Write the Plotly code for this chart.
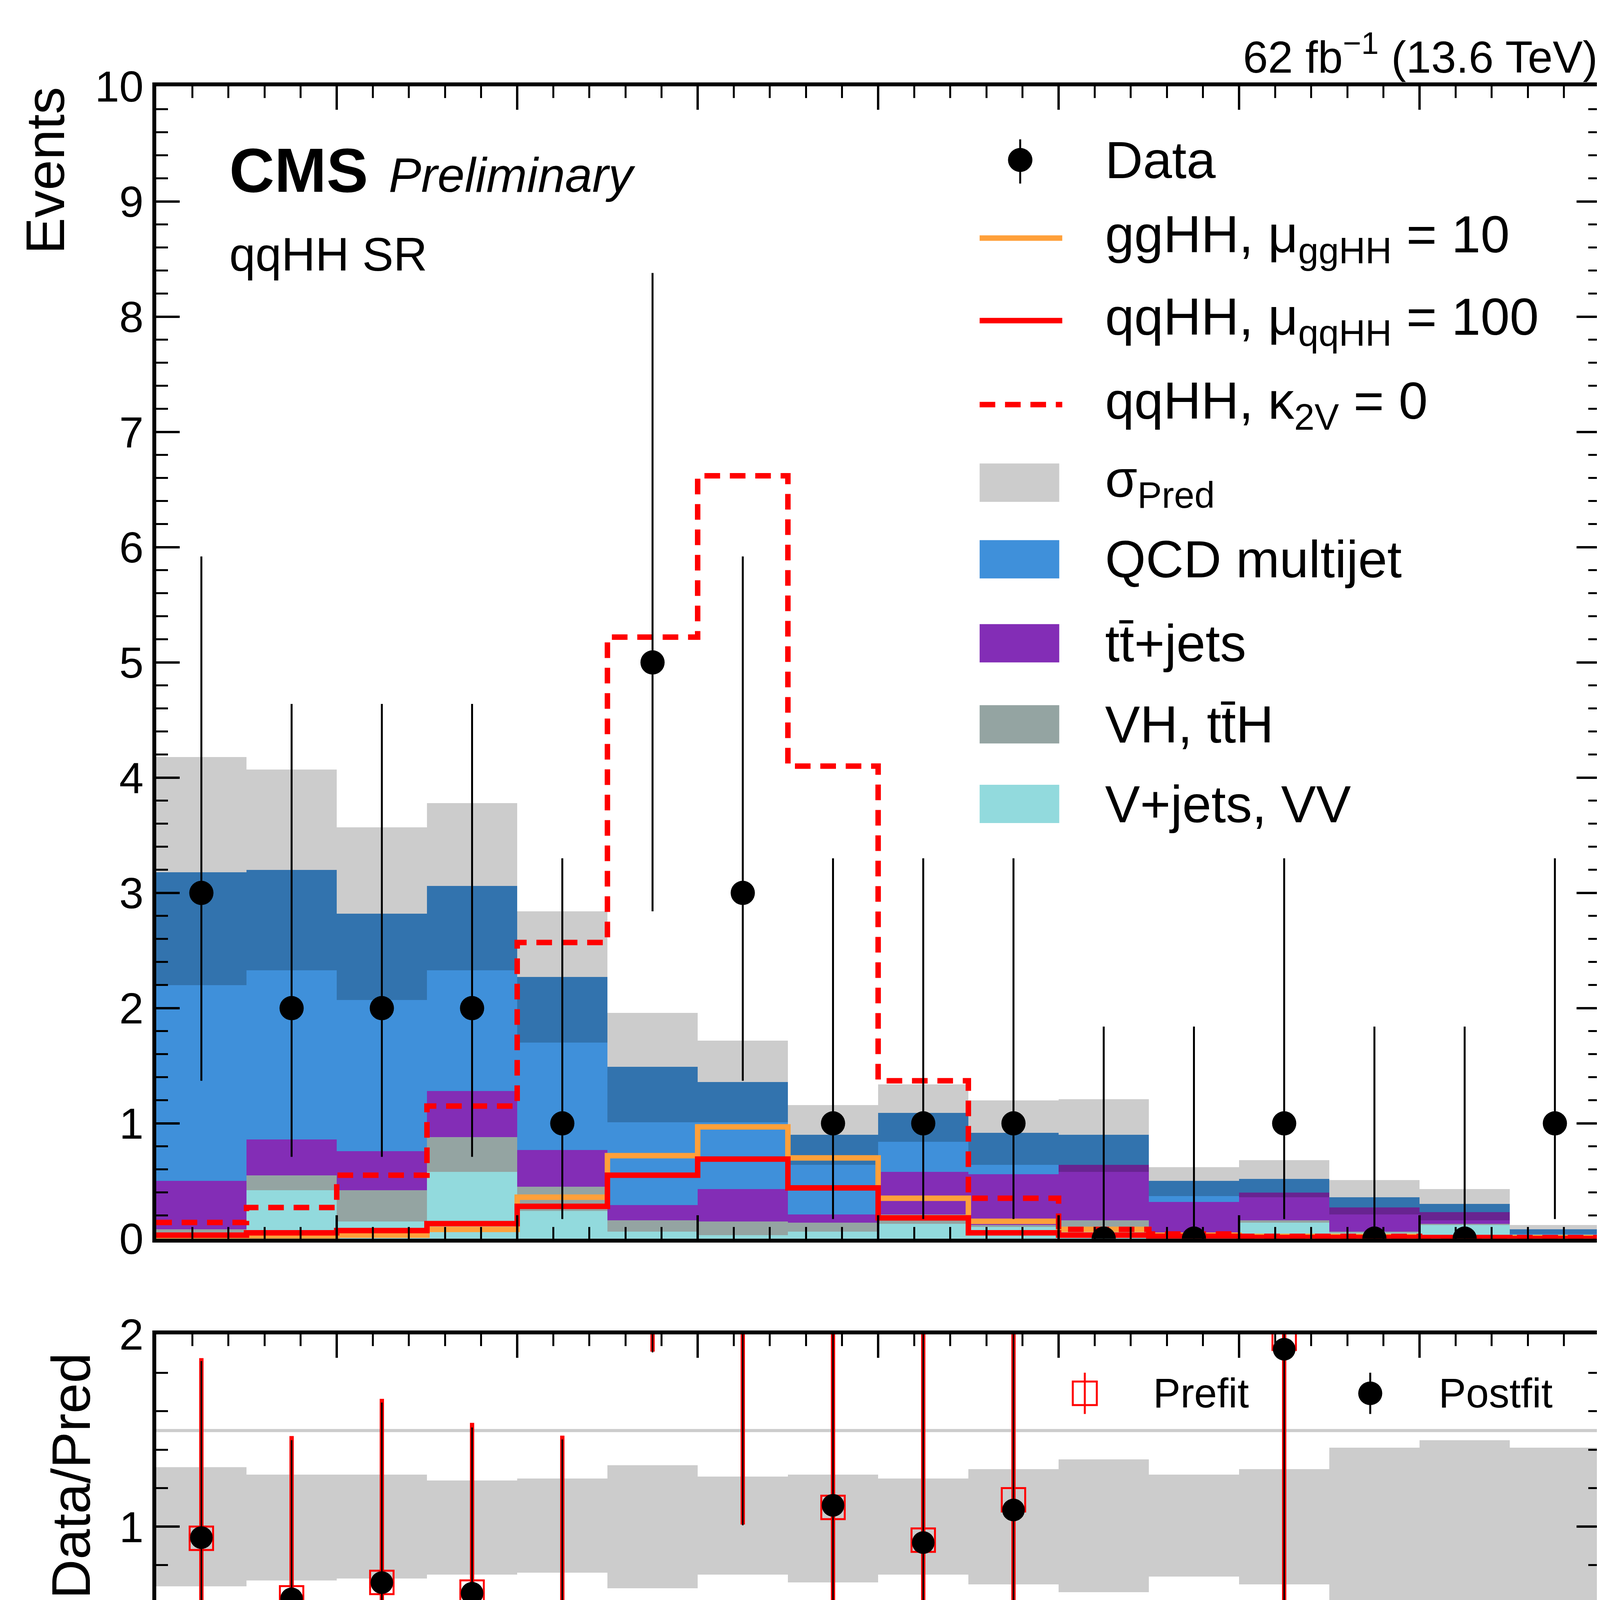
import numpy as np
import plotly.graph_objects as go

edges = list(range(60, 230, 10))
centers = [e + 5 for e in edges[:-1]]

# cumulative stack levels
vjets_top = [0.03, 0.42, 0.15, 0.58, 0.24, 0.06, 0.03, 0.06, 0.13, 0.10, 0.10, 0.02, 0.14, 0.05, 0.12, 0.01]
vh_top    = [0.08, 0.55, 0.42, 0.88, 0.45, 0.16, 0.15, 0.14, 0.21, 0.12, 0.16, 0.04, 0.16, 0.06, 0.13, 0.01]
tt_top    = [0.50, 0.86, 0.76, 1.28, 0.77, 0.29, 0.43, 0.21, 0.58, 0.56, 0.64, 0.32, 0.40, 0.27, 0.23, 0.02]
qcd_top   = [3.18, 3.20, 2.82, 3.06, 2.27, 1.49, 1.36, 0.90, 1.09, 0.92, 0.90, 0.50, 0.52, 0.36, 0.30, 0.08]
band_lo   = [2.20, 2.33, 2.07, 2.33, 1.70, 1.01, 1.01, 0.64, 0.84, 0.64, 0.58, 0.37, 0.36, 0.21, 0.16, 0.04]
band_hi   = [4.18, 4.07, 3.57, 3.78, 2.84, 1.96, 1.72, 1.16, 1.34, 1.20, 1.21, 0.62, 0.68, 0.51, 0.43, 0.12]

gghh  = [0.02, 0.02, 0.03, 0.08, 0.36, 0.72, 0.97, 0.70, 0.35, 0.15, 0.08, 0.03, 0.02, 0.02, 0.01, 0.01]
qqhh  = [0.03, 0.05, 0.07, 0.13, 0.28, 0.55, 0.69, 0.44, 0.18, 0.05, 0.03, 0.02, 0.01, 0.01, 0.01, 0.00]
k2v0  = [0.14, 0.27, 0.55, 1.15, 2.57, 5.22, 6.62, 4.10, 1.37, 0.35, 0.08, 0.04, 0.02, 0.02, 0.01, 0.01]

data    = [3, 2, 2, 2, 1, 5, 3, 1, 1, 1, 0, 0, 1, 0, 0, 1]
data_lo = [1.37, 0.71, 0.71, 0.71, 0.17, 2.84, 1.37, 0.17, 0.17, 0.17, 0, 0, 0.17, 0, 0, 0.17]
data_hi = [5.92, 4.64, 4.64, 4.64, 3.30, 8.38, 5.92, 3.30, 3.30, 3.30, 1.84, 1.84, 3.30, 1.84, 1.84, 3.30]

ratio_band_lo = [0.69, 0.72, 0.73, 0.75, 0.76, 0.68, 0.75, 0.71, 0.75, 0.70, 0.66, 0.74, 0.70, 0.58, 0.56, 0.60]
ratio_band_hi = [1.31, 1.27, 1.27, 1.24, 1.25, 1.32, 1.26, 1.27, 1.25, 1.30, 1.35, 1.27, 1.30, 1.41, 1.45, 1.41]
prefit_ratio  = [0.94, 0.63, 0.71, 0.66, 0.44, 3.36, 2.21, 1.10, 0.93, 1.14, 0.0, 0.0, 1.98, 0.0, 0.0, 12.5]

pull = [-0.10, -0.87, -0.58, -0.75, -1.27, 1.58, 0.95, 0.08, -0.05, 0.07, -0.90, -0.50, 0.48, -0.35, -0.30, 0.92]

FONT = "Liberation Sans"
W, H = 4200, 6040
S = 3.867 * W / 4223
ML, MR = round(102 * S), round(W - 1063 * S)
fig = go.Figure()

def bars(base, top, color, xa="x", ya="y"):
    b = np.array(base, float); t = np.array(top, float)
    fig.add_trace(go.Bar(x=centers, y=t - b, base=b, width=10, marker=dict(color=color, line_width=0),
                         xaxis=xa, yaxis=ya, showlegend=False, hoverinfo="skip"))

zero = [0] * 16
bars(zero, vjets_top, "#92dadd")
bars(vjets_top, vh_top, "#94a4a2")
bars(vh_top, tt_top, "#832db6")
bars(tt_top, qcd_top, "#3f90da")
bars(band_lo, band_hi, "rgba(0,0,0,0.2)")

def step(vals, color, dash="solid", xa="x", ya="y"):
    fig.add_trace(go.Scatter(x=edges, y=list(vals) + [vals[-1]], mode="lines", line_shape="hv",
                             line=dict(color=color, width=14, dash=dash), xaxis=xa, yaxis=ya,
                             showlegend=False, hoverinfo="skip"))

step(gghh, "#ffa03a")
step(qqhh, "#ff0000")
step(k2v0, "#ff0000", dash="40px,25px")

d = np.array(data, float)
fig.add_trace(go.Scatter(x=centers, y=d, mode="markers", marker=dict(color="black", size=62),
                         error_y=dict(type="data", symmetric=False, array=np.array(data_hi) - d,
                                      arrayminus=d - np.array(data_lo), color="black", thickness=5, width=0),
                         showlegend=False, hoverinfo="skip"))

# ratio panel
bars(ratio_band_lo, ratio_band_hi, "#cccccc", "x2", "y2")
pred = np.array(qcd_top)
r = d / pred
rlo = np.array(data_lo) / pred
rhi = np.array(data_hi) / pred
mask = d > 0
fig.add_trace(go.Scatter(x=np.array(centers)[mask], y=np.array(prefit_ratio)[mask], mode="markers",
                         marker=dict(symbol="square-open", color="red", size=60, line=dict(width=5)),
                         error_y=dict(type="data", symmetric=False, array=(rhi - r)[mask] * 1.02,
                                      arrayminus=(r - rlo)[mask], color="red", thickness=11, width=0),
                         xaxis="x2", yaxis="y2", showlegend=False, hoverinfo="skip"))
fig.add_trace(go.Scatter(x=np.array(centers)[~mask], y=np.array(prefit_ratio)[~mask], mode="markers",
                         marker=dict(symbol="square-open", color="red", size=60, line=dict(width=5)),
                         xaxis="x2", yaxis="y2", showlegend=False, hoverinfo="skip"))
fig.add_trace(go.Scatter(x=centers, y=r, mode="markers", marker=dict(color="black", size=58),
                         error_y=dict(type="data", symmetric=False, array=np.where(mask, rhi - r, 0),
                                      arrayminus=np.where(mask, r - rlo, 0), color="black", thickness=4, width=0),
                         xaxis="x2", yaxis="y2", showlegend=False, hoverinfo="skip"))

# pull panel
bars(zero, pull, "#cccccc", "x3", "y3")

shapes = []
for yv in (0.5, 1.5):
    shapes.append(dict(type="line", xref="x2", yref="y2", x0=60, x1=220, y0=yv, y1=yv,
                       line=dict(color="#cccccc", width=8), layer="below"))
for yv in (-1, 1):
    shapes.append(dict(type="line", xref="x3", yref="y3", x0=60, x1=220, y0=yv, y1=yv,
                       line=dict(color="#cccccc", width=8), layer="below"))

def px(x): return (x * S - ML) / (W - ML - MR)
def py(y): return 1 - y / 1568

ann = []
def text(x, y, s, size, xanchor="left", yanchor="middle", angle=0, **kw):
    ann.append(dict(x=px(x), y=py(y), xref="paper", yref="paper", text=s, showarrow=False,
                    xanchor=xanchor, yanchor=yanchor, textangle=angle,
                    font=dict(family=FONT, size=size, color="black"), **kw))

# legend
leg_y = [90, 143, 199, 256, 309, 361, 418, 473, 527]
labels = ["Data", "ggHH, μ<sub>ggHH</sub> = 10", "qqHH, μ<sub>qqHH</sub> = 100", "qqHH, κ<sub>2V</sub> = 0",
          "σ<sub>Pred</sub>", "QCD multijet", "tt̄+jets", "VH, tt̄H", "V+jets, VV"]
for yy, lab in zip(leg_y, labels):
    text(733, yy, lab, 134)
shapes.append(dict(type="line", xref="paper", yref="paper", x0=px(677), x1=px(677), y0=py(76), y1=py(106),
                   line=dict(color="black", width=5)))
shapes.append(dict(type="circle", xref="paper", yref="paper", x0=px(669), x1=px(685), y0=py(82), y1=py(98),
                   fillcolor="black", line=dict(color="black", width=1)))
shapes.append(dict(type="line", xref="paper", yref="paper", x0=px(650), x1=px(705), y0=py(143), y1=py(143),
                   line=dict(color="#ffa03a", width=14)))
shapes.append(dict(type="line", xref="paper", yref="paper", x0=px(650), x1=px(705), y0=py(199), y1=py(199),
                   line=dict(color="#ff0000", width=14)))
shapes.append(dict(type="line", xref="paper", yref="paper", x0=px(650), x1=px(705), y0=py(256), y1=py(256),
                   line=dict(color="#ff0000", width=14, dash="40px,25px")))
for yy, col in zip(leg_y[4:], ["#cccccc", "#3f90da", "#832db6", "#94a4a2", "#92dadd"]):
    shapes.append(dict(type="rect", xref="paper", yref="paper", x0=px(650), x1=px(703), y0=py(yy + 13),
                       y1=py(yy - 13), fillcolor=col, line_width=0))

# ratio legend
text(765, 927, "Prefit", 105)
text(955, 927, "Postfit", 105)
shapes.append(dict(type="rect", xref="paper", yref="paper", x0=px(712), x1=px(728), y0=py(935), y1=py(919),
                   line=dict(color="red", width=5)))
shapes.append(dict(type="line", xref="paper", yref="paper", x0=px(720), x1=px(720), y0=py(941), y1=py(913),
                   line=dict(color="red", width=5)))
shapes.append(dict(type="circle", xref="paper", yref="paper", x0=px(902), x1=px(918), y0=py(935), y1=py(919),
                   fillcolor="black", line_width=0))
shapes.append(dict(type="line", xref="paper", yref="paper", x0=px(910), x1=px(910), y0=py(941), y1=py(913),
                   line=dict(color="black", width=5)))

text(150, 97, "<b>CMS</b>", 160)
text(256, 100, "<i>Preliminary</i>", 125)
text(150, 154, "qqHH SR", 120)
text(1062, 18, "62 fb<sup>−1</sup> (13.6 TeV)", 115, xanchor="right")
text(28, 40, "Events", 140, xanchor="center", yanchor="top", angle=-90)
text(45, 983, "Data/Pred", 140, xanchor="center", angle=-90)
text(30, 1296, "<u>Data − Pred</u><br>σ<sub>Data</sub>", 110, xanchor="center", angle=-90)
text(1060, 1543, "m<sub>reg</sub>(H<sub>2</sub>) (GeV)", 140, xanchor="right")

def dom(a, b): return [1 - b / 1568, 1 - a / 1568]

ax_common = dict(showline=True, linecolor="black", linewidth=10, mirror="allticks", ticks="inside",
                 ticklen=60, tickwidth=6, tickcolor="black", showgrid=False, zeroline=False,
                 tickfont=dict(family=FONT, size=112, color="black"),
                 minor=dict(ticks="inside", ticklen=30, tickwidth=5, tickcolor="black"))
xcommon = dict(ax_common, range=[60, 220], dtick=20, tick0=60, minor=dict(ax_common["minor"], dtick=4))

fig.update_layout(
    width=W, height=H, paper_bgcolor="white", plot_bgcolor="white", barmode="overlay", bargap=0,
    margin=dict(l=ML, r=MR, t=0, b=0), shapes=shapes, annotations=ann,
    xaxis=dict(xcommon, domain=[0, 1], anchor="y", showticklabels=False),
    yaxis=dict(ax_common, domain=dom(40, 822), range=[0, 10], dtick=1, anchor="x",
               minor=dict(ax_common["minor"], dtick=0.2)),
    xaxis2=dict(xcommon, domain=[0, 1], anchor="y2", matches="x", showticklabels=False),
    yaxis2=dict(ax_common, domain=dom(887, 1148), range=[0, 2], dtick=1, anchor="x2",
                minor=dict(ax_common["minor"], dtick=0.2)),
    xaxis3=dict(xcommon, domain=[0, 1], anchor="y3", matches="x"),
    yaxis3=dict(ax_common, domain=dom(1213, 1473), range=[-2, 2], dtick=2, anchor="x3",
                minor=dict(ax_common["minor"], dtick=0.4)),
)
fig.write_html("out.html")
